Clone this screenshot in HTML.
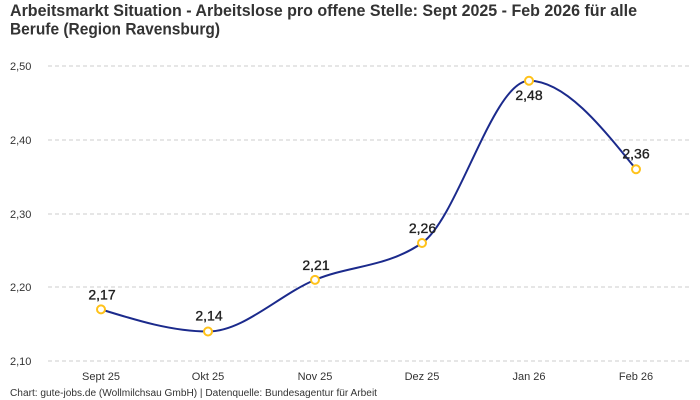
<!DOCTYPE html>
<html>
<head>
<meta charset="utf-8">
<style>
  html, body { margin: 0; padding: 0; background: #fff; }
  svg { display: block; }
  text { font-family: "Liberation Sans", sans-serif; }
</style>
</head>
<body>
<svg width="700" height="400" viewBox="0 0 700 400" xmlns="http://www.w3.org/2000/svg">
  <rect width="700" height="400" fill="#fff"/>
  <!-- Title -->
  <text x="10" y="16" font-size="17" font-weight="bold" fill="#333" textLength="627" lengthAdjust="spacingAndGlyphs">Arbeitsmarkt Situation - Arbeitslose pro offene Stelle: Sept 2025 - Feb 2026 für alle</text>
  <text x="10" y="34.5" font-size="17" font-weight="bold" fill="#333" textLength="210" lengthAdjust="spacingAndGlyphs">Berufe (Region Ravensburg)</text>

  <!-- Grid lines -->
  <g stroke="#cccccc" stroke-width="1" stroke-dasharray="4,3">
    <line x1="48" y1="66" x2="690" y2="66"/>
    <line x1="48" y1="140" x2="690" y2="140"/>
    <line x1="48" y1="214" x2="690" y2="214"/>
    <line x1="48" y1="287" x2="690" y2="287"/>
    <line x1="48" y1="361" x2="690" y2="361"/>
  </g>

  <!-- Y tick labels -->
  <g font-size="11" fill="#333">
    <text x="10" y="70">2,50</text>
    <text x="10" y="144">2,40</text>
    <text x="10" y="218">2,30</text>
    <text x="10" y="291">2,20</text>
    <text x="10" y="365">2,10</text>
  </g>

  <!-- X tick labels -->
  <g font-size="11" fill="#333" text-anchor="middle">
    <text x="101" y="380">Sept 25</text>
    <text x="208" y="380">Okt 25</text>
    <text x="315" y="380">Nov 25</text>
    <text x="422" y="380">Dez 25</text>
    <text x="529" y="380">Jan 26</text>
    <text x="636" y="380">Feb 26</text>
  </g>

  <!-- Line -->
  <path d="M101,309.375 C136.667,320.438 172.333,331.5 208,331.5 C243.667,331.5 279.333,294.625 315,279.875 C350.667,265.125 386.333,267.584 422,243 C457.667,218.416 493.333,80.75 529,80.75 C564.667,80.75 600.333,125 636,169.25"
        fill="none" stroke="#1b2a8c" stroke-width="2"/>

  <!-- Markers -->
  <g fill="#fff" stroke="#ffc21a" stroke-width="2">
    <circle cx="101" cy="309.375" r="4"/>
    <circle cx="208" cy="331.5" r="4"/>
    <circle cx="315" cy="279.875" r="4"/>
    <circle cx="422" cy="243" r="4"/>
    <circle cx="529" cy="80.75" r="4"/>
    <circle cx="636" cy="169.25" r="4"/>
  </g>

  <!-- Data labels -->
  <g font-size="14" fill="#222" stroke="#222" stroke-width="0.35" text-anchor="middle">
    <text x="102" y="299.5">2,17</text>
    <text x="209" y="320.5">2,14</text>
    <text x="316" y="270">2,21</text>
    <text x="422.5" y="233">2,26</text>
    <text x="529" y="100">2,48</text>
    <text x="636" y="158.5">2,36</text>
  </g>

  <!-- Footer -->
  <text x="10" y="396" font-size="10" fill="#333" textLength="367" lengthAdjust="spacingAndGlyphs">Chart: gute-jobs.de (Wollmilchsau GmbH) | Datenquelle: Bundesagentur für Arbeit</text>
</svg>
</body>
</html>
